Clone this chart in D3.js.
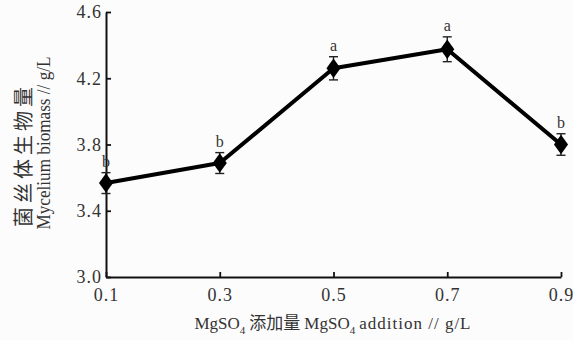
<!DOCTYPE html>
<html>
<head>
<meta charset="utf-8">
<script src="https://cdn.jsdelivr.net/npm/d3@7"></script>
<style>
  body { margin: 0; background: #fcfcfc; }
  svg { display: block; }
  text { font-family: "Liberation Serif", "Noto Sans CJK SC", serif; fill: #333; }
  .cjk { font-family: "Noto Sans CJK SC", sans-serif; }
</style>
</head>
<body>
<svg width="573" height="340"></svg>
<script>
// MgSO4 addition (g/L) and mycelium biomass (g/L)
const doses = [0.1, 0.3, 0.5, 0.7, 0.9];
const biomass = [3.567, 3.688, 4.26, 4.375, 3.80];
const errs = [0.063, 0.063, 0.07, 0.075, 0.065];
const letters = ["b", "b", "a", "a", "b"];
const xTicks = [0.1, 0.3, 0.5, 0.7, 0.9];
const yTicks = [3.0, 3.4, 3.8, 4.2, 4.6];

var svg = d3.select("svg");
var plotLeft = 106, plotRight = 561, plotTop = 12, plotBottom = 277;

var x = d3.scaleLinear().domain([0.1, 0.9]).range([plotLeft, plotRight]);
var y = d3.scaleLinear().domain([3.0, 4.6]).range([plotBottom, plotTop]);

// axes
var xAxis = svg.append("g")
    .attr("transform", "translate(0," + plotBottom + ")")
    .call(d3.axisBottom(x).tickValues(xTicks).tickSizeInner(-5).tickSizeOuter(0).tickPadding(11)
        .tickFormat(d3.format(".1f")));
var yAxis = svg.append("g")
    .attr("transform", "translate(" + plotLeft + ",0)")
    .call(d3.axisLeft(y).tickValues(yTicks).tickSizeInner(-5).tickSizeOuter(0).tickPadding(4)
        .tickFormat(d3.format(".1f")));

[xAxis, yAxis].forEach(function(a) {
    a.select(".domain").attr("stroke", "#111").attr("stroke-width", 2);
    a.selectAll(".tick line").attr("stroke", "#111").attr("stroke-width", 1.8);
    a.selectAll(".tick text").attr("font-size", 18).attr("fill", "#333")
        .attr("font-family", "Liberation Serif").attr("letter-spacing", 1);
});

// line
var line = d3.line().x(function(d, i) { return x(doses[i]); }).y(function(d) { return y(d); });
svg.append("path").datum(biomass)
    .attr("d", line)
    .attr("fill", "none")
    .attr("stroke", "#000")
    .attr("stroke-width", 4)
    .attr("stroke-linejoin", "round");

// error bars
var eb = svg.append("g").attr("stroke", "#222").attr("stroke-width", 1.4);
biomass.forEach(function(v, i) {
    var cx = x(doses[i]);
    eb.append("line").attr("x1", cx).attr("x2", cx).attr("y1", y(v + errs[i])).attr("y2", y(v - errs[i]));
    eb.append("line").attr("x1", cx - 4.5).attr("x2", cx + 4.5).attr("y1", y(v + errs[i])).attr("y2", y(v + errs[i]));
    eb.append("line").attr("x1", cx - 4.5).attr("x2", cx + 4.5).attr("y1", y(v - errs[i])).attr("y2", y(v - errs[i]));
});

// diamond markers
svg.append("g").selectAll("path")
    .data(biomass)
    .enter().append("path")
    .attr("d", d3.symbol().type(d3.symbolDiamond).size(110))
    .attr("transform", function(d, i) { return "translate(" + x(doses[i]) + "," + y(d) + ") scale(1.25,1)"; })
    .attr("fill", "#000");

// significance letters
svg.append("g").selectAll("text")
    .data(biomass)
    .enter().append("text")
    .attr("x", function(d, i) { return x(doses[i]); })
    .attr("y", function(d, i) { return y(d + errs[i]) - 6; })
    .attr("text-anchor", "middle")
    .attr("font-size", 16)
    .text(function(d, i) { return letters[i]; });

// axis titles
var xt = svg.append("text").attr("x", 333).attr("y", 329).attr("text-anchor", "middle").attr("font-size", 17);
xt.append("tspan").text("MgSO");
xt.append("tspan").attr("font-size", 11).attr("dy", 5).text("4");
xt.append("tspan").attr("class", "cjk").attr("dy", -5).attr("dx", 4).attr("font-size", 17).text("添加量");
xt.append("tspan").attr("dx", 4).text("MgSO");
xt.append("tspan").attr("font-size", 11).attr("dy", 5).text("4");
xt.append("tspan").attr("dy", -5).attr("dx", 4).attr("letter-spacing", 1).text("addition // g/L");

svg.append("text")
    .attr("class", "cjk")
    .attr("transform", "translate(31,155) rotate(-90)")
    .attr("text-anchor", "middle")
    .attr("font-size", 20)
    .attr("letter-spacing", 4)
    .text("菌丝体生物量");
svg.append("text")
    .attr("transform", "translate(50,143) rotate(-90)")
    .attr("text-anchor", "middle")
    .attr("font-size", 18)
    .attr("textLength", 173)
    .attr("lengthAdjust", "spacingAndGlyphs")
    .text("Mycelium biomass // g/L");
</script>
</body>
</html>
